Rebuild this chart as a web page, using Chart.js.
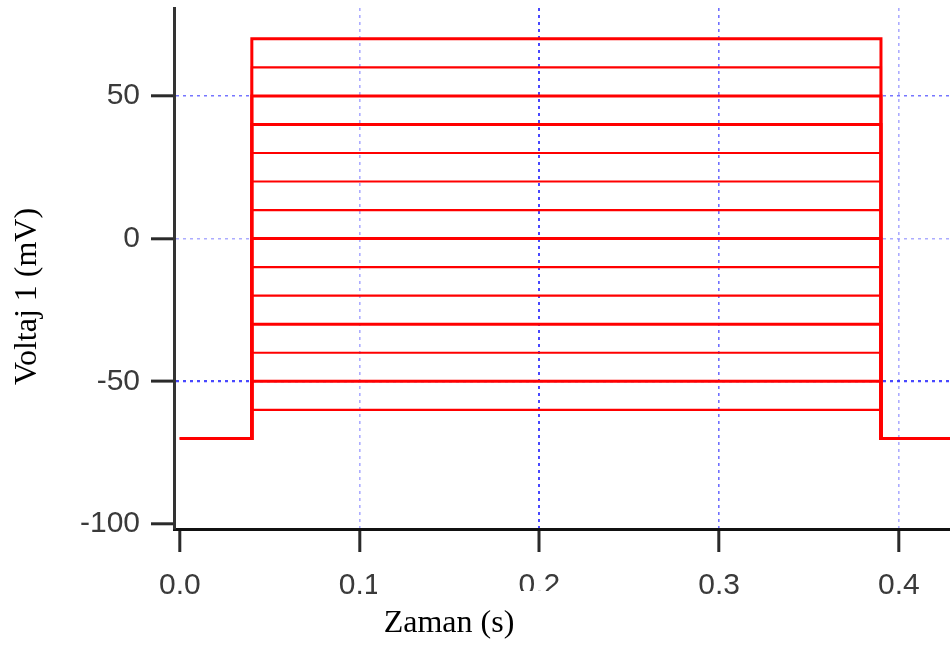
<!DOCTYPE html>
<html>
<head>
<meta charset="utf-8">
<script src="https://cdn.jsdelivr.net/npm/chart.js@4.4.0/dist/chart.umd.min.js"></script>
<style>
  html, body { margin: 0; padding: 0; background: #ffffff; }
  #wrap { width: 950px; height: 646px; }
</style>
</head>
<body>
<div id="wrap"><canvas id="c" width="950" height="646"></canvas></div>
<script>
// ---- data ----
const holdingPotential = -70;                // mV
const stepLevels = [70, 60, 50, 40, 30, 20, 10, 0, -10, -20, -30, -40, -50, -60]; // mV
const stepTimes = [0.0, 0.04, 0.39, 0.43];   // start, step on, step off, end (s)
const xTickValues = [0.0, 0.1, 0.2, 0.3, 0.4];
const yTickValues = [-100, -50, 0, 50];
const xTitle = 'Zaman (s)';
const yTitle = 'Voltaj 1 (mV)';

// ---- styles ----
const thickLevels = [70, 50, 40, 0, -30, -50];

function tracePoints(level) {
  const [t0, tOn, tOff, tEnd] = stepTimes;
  return [
    { x: t0, y: holdingPotential },
    { x: tOn, y: holdingPotential },
    { x: tOn, y: level },
    { x: tOff, y: level },
    { x: tOff, y: holdingPotential },
    { x: tEnd, y: holdingPotential }
  ];
}

const datasets = stepLevels.map(level => ({
  label: level + ' mV',
  data: tracePoints(level),
  showLine: true,
  borderColor: '#ff0000',
  borderWidth: thickLevels.includes(level) ? 3 : 2.2,
  pointRadius: 0,
  pointHoverRadius: 0,
  fill: false,
  tension: 0
}));

const tickFont = { family: '"Liberation Sans", Arial, sans-serif', size: 30 };
const titleFont = '32px "Liberation Serif", "Times New Roman", serif';

const textPlugin = {
  id: 'axisTitles',
  afterDraw(chart) {
    const ctx = chart.ctx;
    ctx.save();
    // white box behind the x title (clips part of nearby tick labels, as in the original)
    ctx.fillStyle = '#ffffff';
    ctx.fillRect(377, 591, 182, 55);
    ctx.fillStyle = '#000000';
    ctx.font = titleFont;
    ctx.textAlign = 'center';
    ctx.textBaseline = 'alphabetic';
    ctx.fillText(xTitle, 449, 632);
    ctx.translate(36, 296.5);
    ctx.rotate(-Math.PI / 2);
    ctx.fillText(yTitle, 0, 0);
    ctx.restore();
  }
};

function xGridColor(c) {
  const v = c.tick ? Math.round(c.tick.value * 10) / 10 : null;
  if (v === 0) return 'rgba(0,0,0,0)';
  if (v === 0.2) return 'rgba(40,40,255,0.85)';
  if (v === 0.3) return 'rgba(50,50,255,0.7)';
  return 'rgba(90,90,255,0.5)';
}
function yGridColor(c) {
  const v = c.tick ? c.tick.value : null;
  if (v === -100) return 'rgba(0,0,0,0)';
  if (v === -50) return 'rgba(40,40,255,0.85)';
  if (v === 50) return 'rgba(60,60,255,0.7)';
  return 'rgba(90,90,255,0.5)';
}

new Chart(document.getElementById('c'), {
  type: 'scatter',
  data: { datasets },
  plugins: [textPlugin],
  options: {
    responsive: false,
    animation: false,
    events: [],
    layout: { padding: { top: 8, right: 0, left: 0, bottom: 0 } },
    plugins: {
      legend: { display: false },
      tooltip: { enabled: false },
      title: { display: false }
    },
    scales: {
      x: {
        type: 'linear',
        min: -0.0033,
        max: 0.4284,
        afterFit(scale) {
          scale.height = 117;
          scale.paddingLeft = 0; scale.paddingRight = 0;
        },
        afterBuildTicks(scale) { scale.ticks = xTickValues.map(v => ({ value: v })); },
        ticks: {
          font: tickFont,
          color: '#3a3a3a',
          padding: 16,
          maxRotation: 0,
          autoSkip: false,
          callback: v => Number(v).toFixed(1)
        },
        grid: {
          color: xGridColor,
          lineWidth: c => (c.tick && Math.round(c.tick.value * 10) === 2) ? 2 : 1.6,
          drawTicks: true,
          tickLength: 23,
          tickColor: '#2a2a2a',
          tickWidth: 3,
          tickBorderDash: [0, 0]
        },
        border: { display: true, color: '#111111', width: 3, dash: [3, 4] }
      },
      y: {
        type: 'linear',
        min: -101.75,
        max: 80.8,
        afterFit(scale) {
          scale.width = 174;
          scale.paddingTop = 0; scale.paddingBottom = 0;
        },
        afterBuildTicks(scale) { scale.ticks = yTickValues.map(v => ({ value: v })); },
        ticks: {
          font: tickFont,
          color: '#3a3a3a',
          padding: 11,
          autoSkip: false,
          callback: v => String(v)
        },
        grid: {
          color: yGridColor,
          lineWidth: c => (c.tick && c.tick.value === -50) ? 2.2 : 1.6,
          drawTicks: true,
          tickLength: 23,
          tickColor: '#2a2a2a',
          tickWidth: 3,
          tickBorderDash: [0, 0]
        },
        border: { display: true, color: '#333333', width: 3, dash: [3, 4] }
      }
    }
  }
});
</script>
</body>
</html>
